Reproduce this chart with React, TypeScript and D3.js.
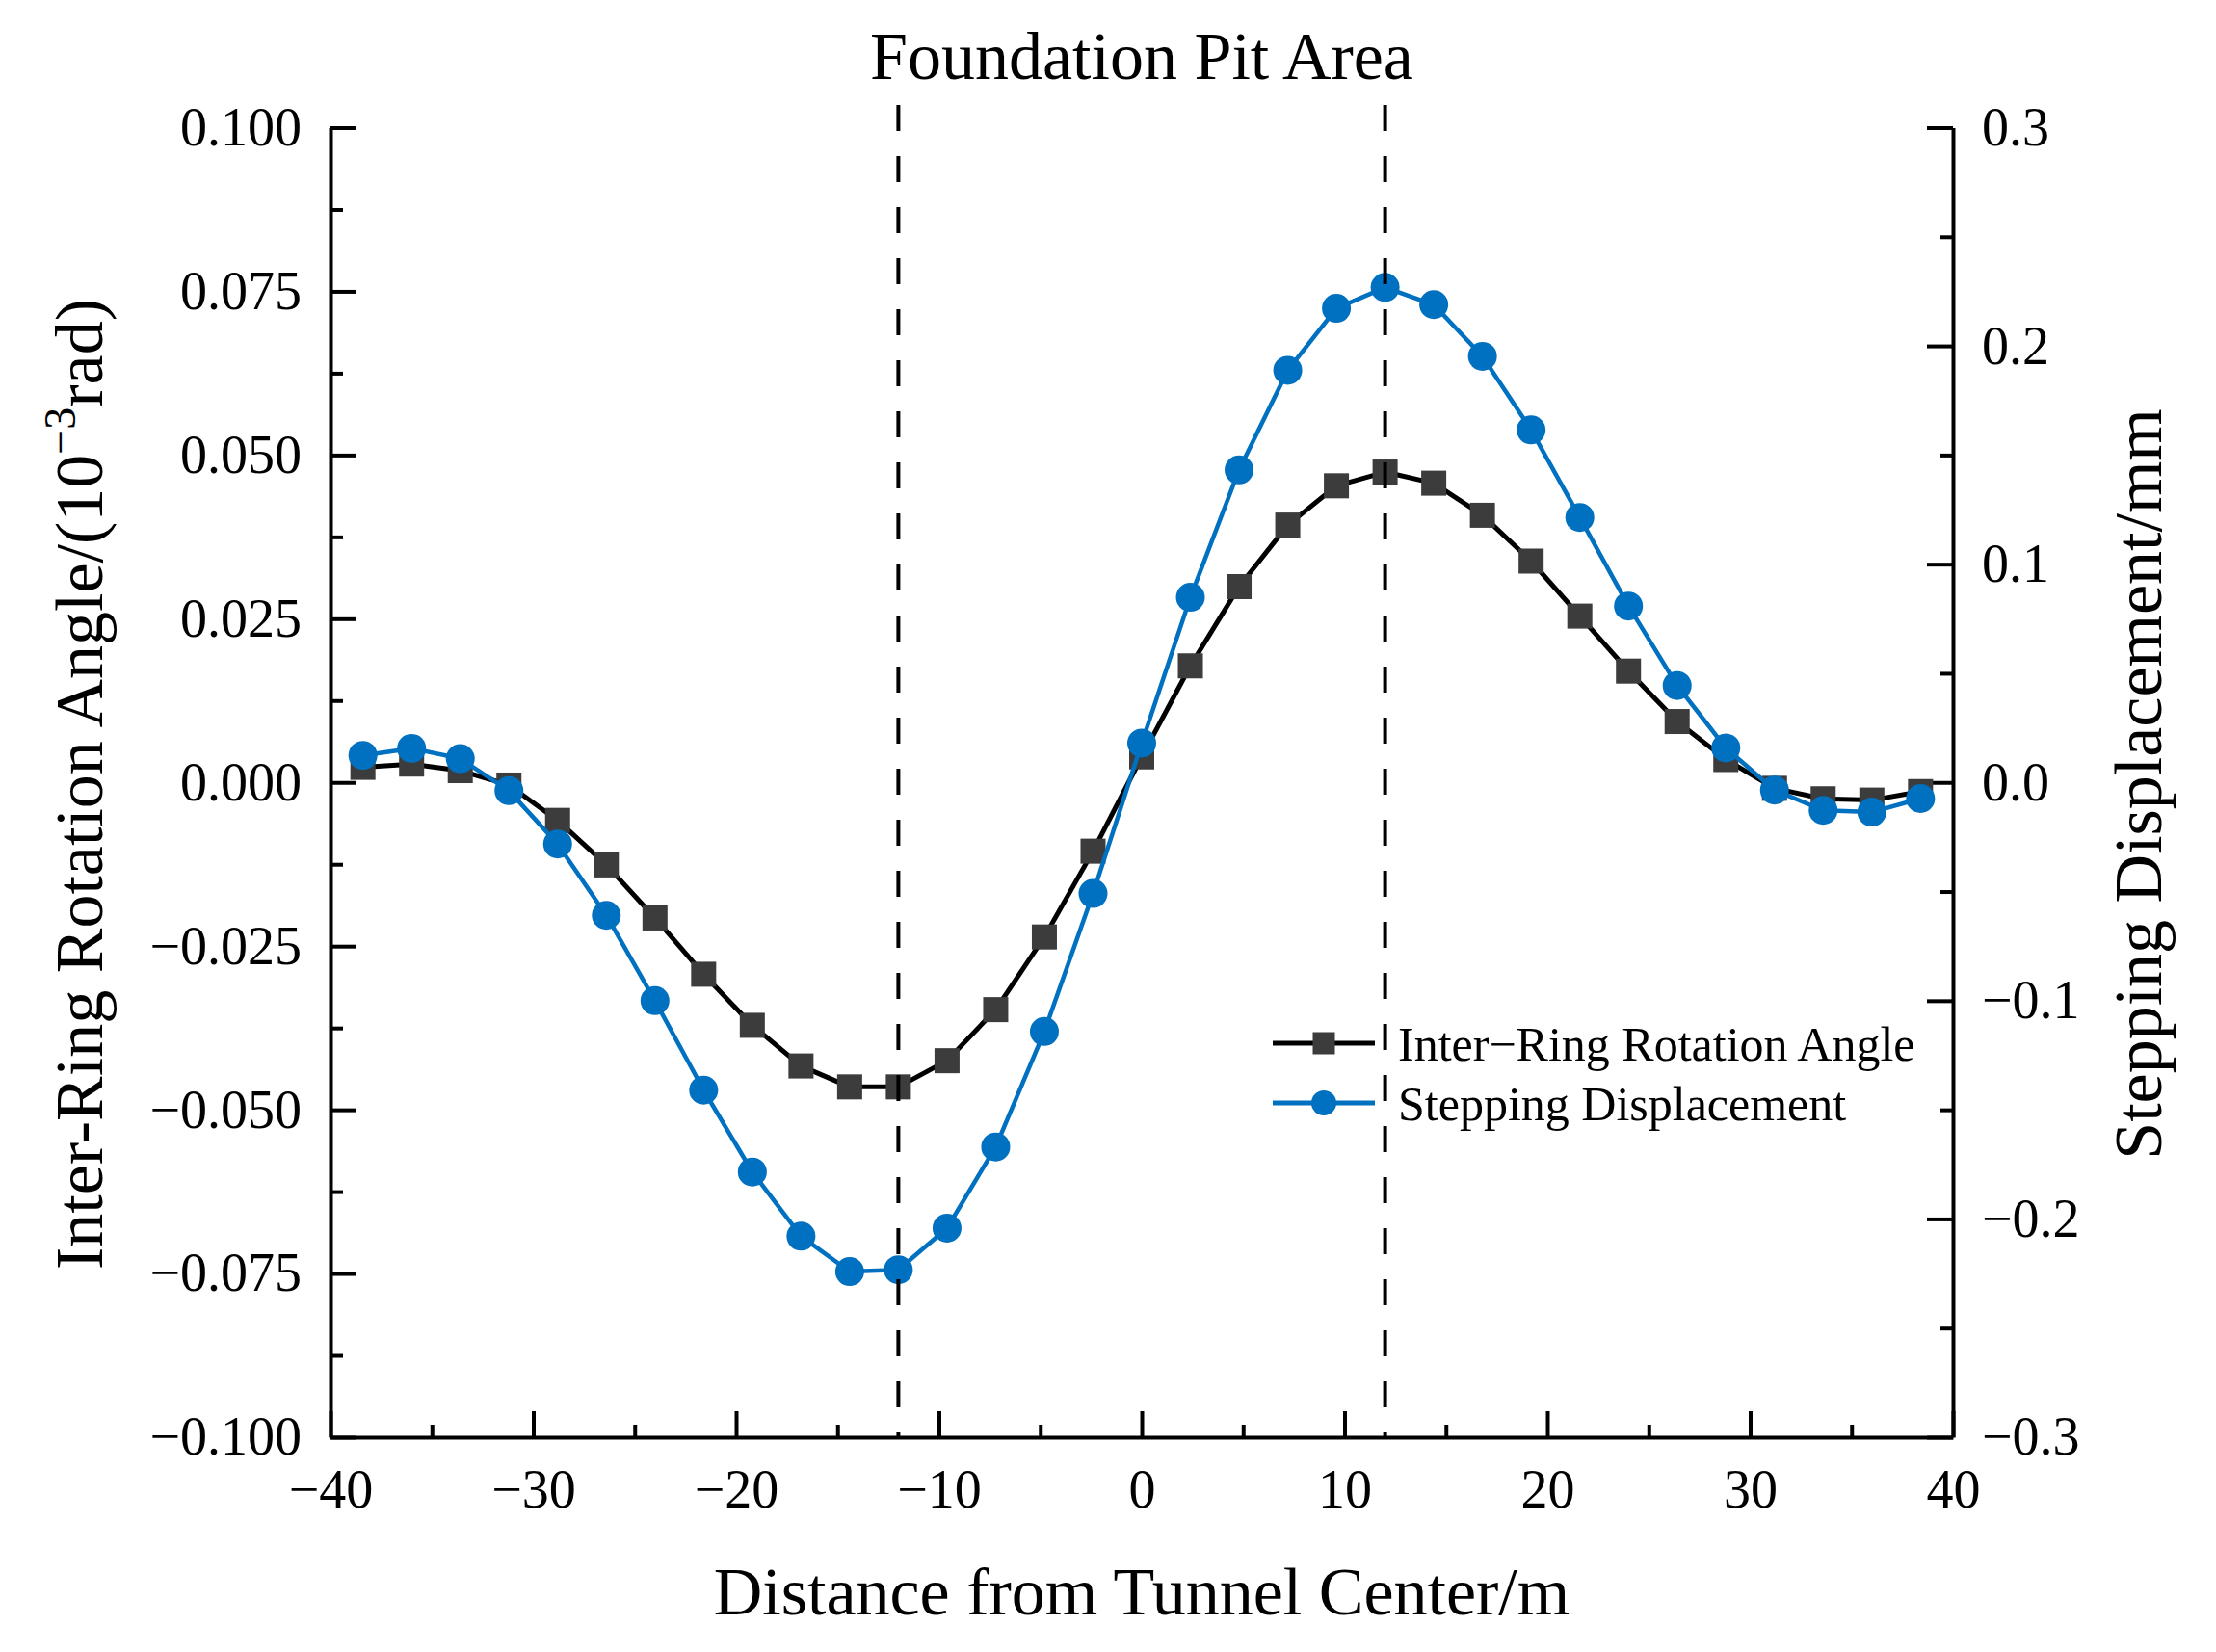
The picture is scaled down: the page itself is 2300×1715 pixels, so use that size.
import React, { useEffect, useRef } from 'react';
import * as d3 from 'd3';

// distance from tunnel center (m), one point per ring
const distances = [
  -38.4, -36, -33.6, -31.2, -28.8, -26.4, -24, -21.6, -19.2, -16.8, -14.4, -12, -9.6, -7.2, -4.8, -2.4,
  0, 2.4, 4.8, 7.2, 9.6, 12, 14.4, 16.8, 19.2, 21.6, 24, 26.4, 28.8, 31.2, 33.6, 36, 38.4,
];

// inter-ring rotation angle (10^-3 rad), left axis
const rotationAngle = [
  0.0023, 0.0028, 0.0018, -0.0004, -0.0058, -0.0126, -0.0207, -0.0293, -0.0371, -0.0433, -0.0465, -0.0465,
  -0.0425, -0.0347, -0.0236, -0.0105, 0.0039, 0.0178, 0.0299, 0.0393, 0.0453, 0.0474, 0.0457, 0.0408,
  0.0338, 0.0254, 0.017, 0.0093, 0.0035, -0.0009, -0.0025, -0.0027, -0.0014,
];

// stepping displacement (mm), right axis
const steppingDisp = [
  0.0124, 0.0156, 0.0109, -0.0038, -0.0282, -0.0609, -0.1, -0.141, -0.1785, -0.2079, -0.2241, -0.2233,
  -0.2042, -0.167, -0.1141, -0.0509, 0.018, 0.0848, 0.1432, 0.1888, 0.2172, 0.2268, 0.2189, 0.1952,
  0.1615, 0.1214, 0.0808, 0.0444, 0.0158, -0.0035, -0.0128, -0.0136, -0.0074,
];

const pitEdges = [-12, 12];

const xMajor = [-40, -30, -20, -10, 0, 10, 20, 30, 40];
const xMinor = [-35, -25, -15, -5, 5, 15, 25, 35];
const leftMajor = [-0.1, -0.075, -0.05, -0.025, 0, 0.025, 0.05, 0.075, 0.1];
const leftMinor = [-0.0875, -0.0625, -0.0375, -0.0125, 0.0125, 0.0375, 0.0625, 0.0875];
const rightMajor = [-0.3, -0.2, -0.1, 0, 0.1, 0.2, 0.3];
const rightMinor = [-0.25, -0.15, -0.05, 0.05, 0.15, 0.25];

const W = 2300;
const H = 1715;
const FONT = '"Liberation Serif", "Times New Roman", serif';
const BLUE = '#0070c0';

const App = () => {
  const ref = useRef<SVGSVGElement | null>(null);

  useEffect(() => {
    if (!ref.current) return;
    const svg = d3.select(ref.current);
    svg.selectAll('*').remove();

    const left = 343, right = 2027, top = 132.5, bottom = 1492;

    const x = d3.scaleLinear().domain([-40, 40]).range([left, right]);
    const yL = d3.scaleLinear().domain([-0.1, 0.1]).range([bottom, top]);
    const yR = d3.scaleLinear().domain([-0.3, 0.3]).range([bottom, top]);

    const styleAxis = (g) => {
      g.attr('font-family', FONT).attr('font-size', 56);
      g.selectAll('path').attr('stroke', '#000').attr('stroke-width', 4);
      g.selectAll('line').attr('stroke', '#000').attr('stroke-width', 4);
      g.selectAll('text').attr('fill', '#000');
    };

    // minor ticks
    svg.append('g').attr('transform', `translate(${left},0)`)
      .call(d3.axisLeft(yL).tickValues(leftMinor).tickFormat(() => '').tickSize(-13))
      .call(styleAxis).call((g) => g.select('.domain').remove());
    svg.append('g').attr('transform', `translate(${right},0)`)
      .call(d3.axisRight(yR).tickValues(rightMinor).tickFormat(() => '').tickSize(-13))
      .call(styleAxis).call((g) => g.select('.domain').remove());
    svg.append('g').attr('transform', `translate(0,${bottom})`)
      .call(d3.axisBottom(x).tickValues(xMinor).tickFormat(() => '').tickSize(-13))
      .call(styleAxis).call((g) => g.select('.domain').remove());

    // major axes
    svg.append('g').attr('transform', `translate(${left},0)`)
      .call(d3.axisLeft(yL).tickValues(leftMajor).tickFormat(d3.format('.3f')).tickSize(-27).tickSizeOuter(0).tickPadding(30))
      .call(styleAxis);
    svg.append('g').attr('transform', `translate(${right},0)`)
      .call(d3.axisRight(yR).tickValues(rightMajor).tickFormat(d3.format('.1f')).tickSize(-27).tickSizeOuter(0).tickPadding(30))
      .call(styleAxis);
    svg.append('g').attr('transform', `translate(0,${bottom})`)
      .call(d3.axisBottom(x).tickValues(xMajor).tickFormat(d3.format('d')).tickSize(-27).tickSizeOuter(0).tickPadding(33))
      .call(styleAxis);

    const idx = d3.range(distances.length);

    // black series
    const lineL = d3.line<number>().x((i) => x(distances[i])).y((i) => yL(rotationAngle[i]));
    svg.append('path').datum(idx).attr('d', lineL).attr('fill', 'none').attr('stroke', '#000')
      .attr('stroke-width', 5).attr('stroke-linejoin', 'round');
    svg.append('g').selectAll('rect').data(idx).join('rect')
      .attr('x', (i) => x(distances[i]) - 13).attr('y', (i) => yL(rotationAngle[i]) - 13)
      .attr('width', 26).attr('height', 26).attr('fill', '#3c3c3c');

    // blue series
    const lineR = d3.line<number>().x((i) => x(distances[i])).y((i) => yR(steppingDisp[i]));
    svg.append('path').datum(idx).attr('d', lineR).attr('fill', 'none').attr('stroke', BLUE)
      .attr('stroke-width', 4.5).attr('stroke-linejoin', 'round');
    svg.append('g').selectAll('circle').data(idx).join('circle')
      .attr('cx', (i) => x(distances[i])).attr('cy', (i) => yR(steppingDisp[i]))
      .attr('r', 15).attr('fill', BLUE);

    // foundation pit boundaries
    svg.append('g').selectAll('line').data(pitEdges).join('line')
      .attr('x1', (d) => x(d)).attr('x2', (d) => x(d)).attr('y1', 109).attr('y2', bottom)
      .attr('stroke', '#000').attr('stroke-width', 4).attr('stroke-dasharray', '27 26');

    svg.append('text').attr('x', x(0)).attr('y', 82).attr('text-anchor', 'middle')
      .attr('font-family', FONT).attr('font-size', 70).text('Foundation Pit Area');

    // axis titles
    svg.append('text').attr('x', x(0)).attr('y', 1676).attr('text-anchor', 'middle')
      .attr('font-family', FONT).attr('font-size', 70).text('Distance from Tunnel Center/m');

    const yl = svg.append('text').attr('transform', 'translate(106,814) rotate(-90)').attr('text-anchor', 'middle')
      .attr('font-family', FONT).attr('font-size', 70);
    yl.append('tspan').text('Inter-Ring Rotation Angle/(10');
    yl.append('tspan').attr('font-size', 46).attr('dy', -28).text('\u22123');
    yl.append('tspan').attr('dy', 28).text('rad)');

    svg.append('text').attr('transform', 'translate(2243,814) rotate(-90)').attr('text-anchor', 'middle')
      .attr('font-family', FONT).attr('font-size', 70).text('Stepping Displacement/mm');

    // legend
    const legend = [
      { label: 'Inter\u2212Ring Rotation Angle', color: '#000', fill: '#3c3c3c', shape: 'square', y: 1083 },
      { label: 'Stepping Displacement', color: BLUE, fill: BLUE, shape: 'circle', y: 1145 },
    ];
    const lg = svg.append('g');
    legend.forEach((d) => {
      lg.append('line').attr('x1', 1321).attr('x2', 1427).attr('y1', d.y).attr('y2', d.y)
        .attr('stroke', d.color).attr('stroke-width', 5);
      if (d.shape === 'square') {
        lg.append('rect').attr('x', 1374 - 11.5).attr('y', d.y - 11.5).attr('width', 23).attr('height', 23).attr('fill', d.fill);
      } else {
        lg.append('circle').attr('cx', 1374).attr('cy', d.y).attr('r', 13).attr('fill', d.fill);
      }
      lg.append('text').attr('x', 1451).attr('y', d.y).attr('dy', '0.35em')
        .attr('font-family', FONT).attr('font-size', 50).text(d.label);
    });
  }, []);

  return (
    <svg
      ref={ref}
      width={W}
      height={H}
      style={{ position: 'absolute', left: 0, top: 0, background: '#fff' }}
    />
  );
};

export default App;
